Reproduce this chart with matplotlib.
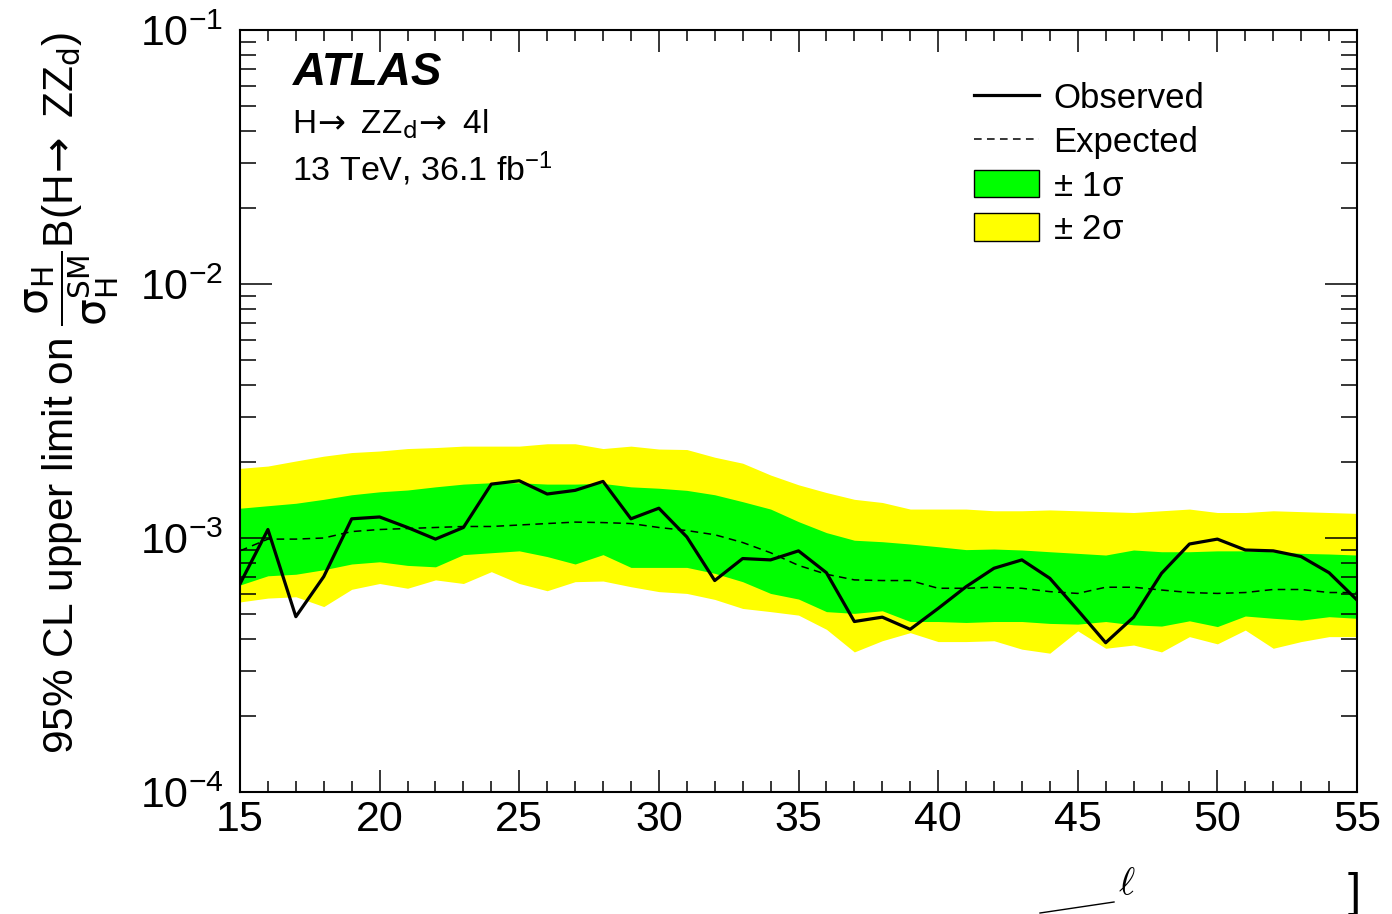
"""Upper limit on sigma_H/sigma_H^SM x B(H -> Z Zd) vs Zd mass, ATLAS-style band plot."""

import numpy as np
import matplotlib
matplotlib.use("Agg")
import matplotlib.pyplot as plt
from matplotlib.lines import Line2D
from matplotlib.patches import Patch
from matplotlib.ticker import MultipleLocator, LogLocator, LogFormatterMathtext

plt.rcParams["font.family"] = ["Liberation Sans", "DejaVu Sans"]
plt.rcParams["mathtext.fontset"] = "custom"
plt.rcParams["mathtext.rm"] = "Liberation Sans"
plt.rcParams["mathtext.it"] = "Liberation Sans:italic"
plt.rcParams["mathtext.bf"] = "Liberation Sans:bold"

# mass points [GeV]
mass = np.arange(15, 56)

observed = [6.6e-4, 1.08e-3, 4.9e-4, 7.05e-4, 1.19e-3, 1.21e-3, 1.10e-3, 9.9e-4, 1.10e-3, 1.63e-3,
            1.68e-3, 1.49e-3, 1.54e-3, 1.67e-3, 1.19e-3, 1.31e-3, 1.01e-3, 6.8e-4, 8.3e-4, 8.2e-4,
            8.9e-4, 7.3e-4, 4.69e-4, 4.88e-4, 4.37e-4, 5.28e-4, 6.43e-4, 7.6e-4, 8.2e-4, 6.94e-4,
            5.2e-4, 3.87e-4, 4.88e-4, 7.26e-4, 9.47e-4, 9.9e-4, 8.97e-4, 8.9e-4, 8.45e-4, 7.3e-4,
            5.7e-4]

expected = [8.9e-4, 9.9e-4, 9.9e-4, 1.0e-3, 1.06e-3, 1.08e-3, 1.09e-3, 1.10e-3, 1.11e-3, 1.11e-3,
            1.125e-3, 1.14e-3, 1.155e-3, 1.15e-3, 1.14e-3, 1.10e-3, 1.07e-3, 1.03e-3, 9.6e-4, 8.75e-4,
            7.8e-4, 7.2e-4, 6.84e-4, 6.8e-4, 6.8e-4, 6.34e-4, 6.34e-4, 6.4e-4, 6.34e-4, 6.15e-4,
            6.05e-4, 6.4e-4, 6.4e-4, 6.24e-4, 6.1e-4, 6.05e-4, 6.1e-4, 6.27e-4, 6.27e-4, 6.1e-4,
            6.1e-4]

band1_hi = [1.31e-3, 1.34e-3, 1.37e-3, 1.42e-3, 1.48e-3, 1.52e-3, 1.545e-3, 1.59e-3, 1.63e-3, 1.65e-3,
            1.65e-3, 1.63e-3, 1.63e-3, 1.64e-3, 1.59e-3, 1.57e-3, 1.54e-3, 1.48e-3, 1.39e-3, 1.30e-3,
            1.16e-3, 1.05e-3, 9.8e-4, 9.67e-4, 9.47e-4, 9.24e-4, 9.0e-4, 9.05e-4, 8.97e-4, 8.83e-4,
            8.7e-4, 8.57e-4, 8.97e-4, 8.83e-4, 8.83e-4, 8.9e-4, 8.9e-4, 8.83e-4, 8.7e-4, 8.65e-4,
            8.57e-4]

band1_lo = [6.53e-4, 7.1e-4, 7.2e-4, 7.5e-4, 7.9e-4, 8.06e-4, 7.8e-4, 7.7e-4, 8.6e-4, 8.75e-4,
            8.9e-4, 8.45e-4, 7.9e-4, 8.6e-4, 7.66e-4, 7.66e-4, 7.66e-4, 7.26e-4, 6.73e-4, 6.05e-4,
            5.75e-4, 5.13e-4, 5.05e-4, 5.17e-4, 4.69e-4, 4.69e-4, 4.65e-4, 4.69e-4, 4.69e-4, 4.61e-4,
            4.58e-4, 4.69e-4, 4.55e-4, 4.5e-4, 4.72e-4, 4.48e-4, 4.93e-4, 4.83e-4, 4.75e-4, 4.9e-4,
            4.83e-4]

band2_hi = [1.88e-3, 1.92e-3, 2.01e-3, 2.10e-3, 2.17e-3, 2.2e-3, 2.25e-3, 2.27e-3, 2.3e-3, 2.3e-3,
            2.3e-3, 2.35e-3, 2.35e-3, 2.25e-3, 2.3e-3, 2.24e-3, 2.23e-3, 2.08e-3, 1.97e-3, 1.77e-3,
            1.62e-3, 1.51e-3, 1.42e-3, 1.38e-3, 1.30e-3, 1.30e-3, 1.30e-3, 1.28e-3, 1.28e-3, 1.29e-3,
            1.28e-3, 1.27e-3, 1.26e-3, 1.28e-3, 1.30e-3, 1.26e-3, 1.26e-3, 1.28e-3, 1.27e-3, 1.26e-3,
            1.25e-3]

band2_lo = [5.6e-4, 5.8e-4, 5.87e-4, 5.37e-4, 6.28e-4, 6.62e-4, 6.34e-4, 6.84e-4, 6.62e-4, 7.37e-4,
            6.62e-4, 6.2e-4, 6.73e-4, 6.77e-4, 6.43e-4, 6.15e-4, 6.05e-4, 5.73e-4, 5.28e-4, 5.13e-4,
            4.97e-4, 4.37e-4, 3.56e-4, 3.94e-4, 4.24e-4, 3.91e-4, 3.91e-4, 3.94e-4, 3.65e-4, 3.52e-4,
            4.31e-4, 3.68e-4, 3.79e-4, 3.56e-4, 4.09e-4, 3.83e-4, 4.34e-4, 3.68e-4, 3.91e-4, 4.09e-4,
            4.09e-4]

fig = plt.figure(figsize=(13.92, 9.14), dpi=100)
ax = fig.add_axes([240 / 1392, 122 / 914, 1117 / 1392, 762 / 914])

ax.fill_between(mass, band2_lo, band2_hi, color="#ffff00", lw=0)
ax.fill_between(mass, band1_lo, band1_hi, color="#00ff00", lw=0)
ax.plot(mass, expected, color="black", lw=1.1, dashes=(5, 3.5))
ax.plot(mass, observed, color="black", lw=2.3)

ax.set_yscale("log")
ax.set_xlim(15, 55)
ax.set_ylim(1e-4, 1e-1)

ax.xaxis.set_major_locator(MultipleLocator(5))
ax.xaxis.set_minor_locator(MultipleLocator(1))
ax.yaxis.set_major_locator(LogLocator(base=10, numticks=10))
ax.yaxis.set_minor_locator(LogLocator(base=10, subs=np.arange(2, 10), numticks=20))
ax.yaxis.set_major_formatter(LogFormatterMathtext())

ax.tick_params(which="both", direction="in", top=True, right=True, width=1.1, colors="black")
ax.tick_params(axis="x", which="major", length=16, labelsize=31, pad=6)
ax.tick_params(axis="x", which="minor", length=8)
ax.tick_params(axis="y", which="major", length=23, labelsize=31, pad=12)
ax.tick_params(axis="y", which="minor", length=11.5)
for sp in ax.spines.values():
    sp.set_linewidth(1.5)

# arrows come from the DejaVu math font; \! trims the relation spacing on the left
arrow = r"$\!\rightarrow$ "

fig.text(72 / 1392, 1 - 393 / 914,
         r"95% CL upper limit on $\dfrac{\mathrm{\sigma_H}}{\mathrm{\sigma_H^{SM}}}$B(H" + arrow
         + r"ZZ$_\mathrm{d}$)",
         rotation=90, ha="center", va="center", fontsize=30.5, math_fontfamily="dejavusans")

fig.text(293 / 1392, 1 - 73 / 914, "ATLAS", fontsize=33, fontweight="bold", fontstyle="italic",
         ha="left", va="center")
fig.text(292 / 1392, 1 - 124 / 914, "H" + arrow + r"ZZ$_\mathrm{d}$" + arrow + "4l", fontsize=24,
         ha="left", va="center", math_fontfamily="dejavusans")
fig.text(292 / 1392, 1 - 169 / 914, r"13 TeV, 36.1 fb$^\mathrm{-1}$", fontsize=24.5,
         ha="left", va="center")

handles = [
    Line2D([], [], color="black", lw=2.3),
    Line2D([], [], color="black", lw=1.1, dashes=(5, 3.5)),
    Patch(facecolor="#00ff00", edgecolor="black", lw=1.0),
    Patch(facecolor="#ffff00", edgecolor="black", lw=1.0),
]
labels = ["Observed", "Expected", r"$\pm$ 1$\mathrm{\sigma}$", r"$\pm$ 2$\mathrm{\sigma}$"]
fig.legend(handles, labels, loc="upper left", bbox_to_anchor=(974 / 1392, 1 - 82 / 914),
           frameon=False, fontsize=25, borderpad=0, borderaxespad=0, handlelength=1.88,
           handleheight=0.86, handletextpad=0.4, labelspacing=0.31)

# x-axis title, mostly below the bottom edge
fig.text(1127 / 1392, 1 - 884 / 914, r"$\ell$", fontsize=28, math_fontfamily="cm",
         ha="center", va="center")
fig.add_artist(Line2D([1040 / 1392, 1114 / 1392], [1 - 913 / 914, 1 - 902 / 914],
                      color="black", lw=1.0, transform=fig.transFigure))
fig.text(1354 / 1392, 1 - 872 / 914, "]", fontsize=34, ha="center", va="top")

fig.savefig("out.png", dpi=100)
plt.close(fig)
